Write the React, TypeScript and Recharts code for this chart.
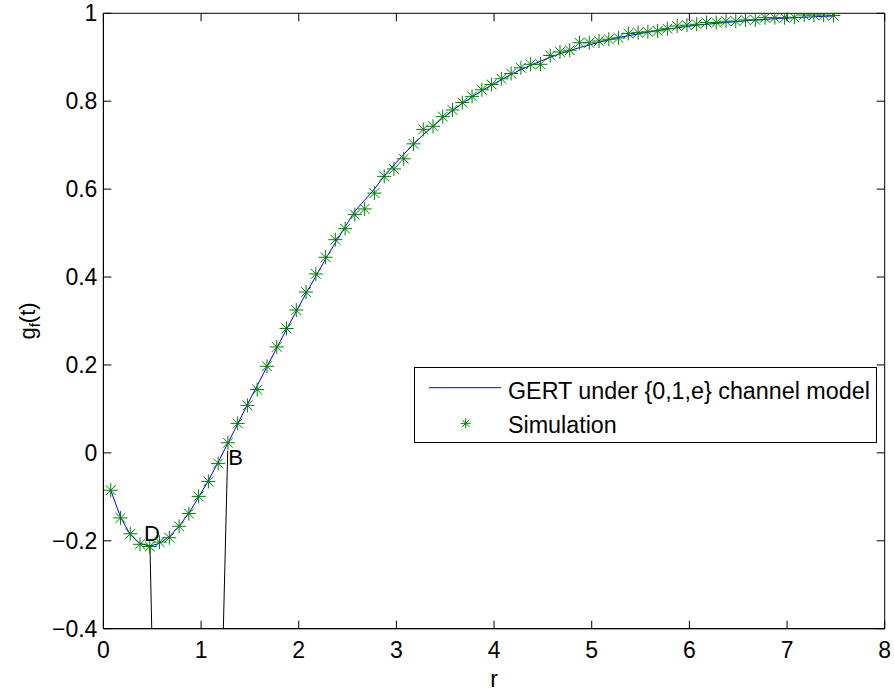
import React from "react";
import {
  ComposedChart,
  Line,
  Scatter,
  XAxis,
  YAxis,
  ReferenceArea,
  ReferenceLine,
  ReferenceDot,
  Legend,
} from "recharts";

// r grid shared by simulation points and the GERT curve
const rValues = [
  0.075, 0.175, 0.275, 0.375, 0.475, 0.575, 0.675, 0.775, 0.875, 0.975,
  1.075, 1.175, 1.275, 1.375, 1.475, 1.575, 1.675, 1.775, 1.875, 1.975,
  2.075, 2.175, 2.275, 2.375, 2.475, 2.575, 2.675, 2.775, 2.875, 2.975,
  3.075, 3.175, 3.275, 3.375, 3.475, 3.575, 3.675, 3.775, 3.875, 3.975,
  4.075, 4.175, 4.275, 4.375, 4.475, 4.575, 4.675, 4.775, 4.875, 4.975,
  5.075, 5.175, 5.275, 5.375, 5.475, 5.575, 5.675, 5.775, 5.875, 5.975,
  6.075, 6.175, 6.275, 6.375, 6.475, 6.575, 6.675, 6.775, 6.875, 6.975,
  7.075, 7.175, 7.275, 7.375, 7.475,
];

const gertValues = [
  -0.085, -0.146, -0.186, -0.206, -0.212, -0.206, -0.19, -0.167, -0.137, -0.101,
  -0.063, -0.021, 0.022, 0.066, 0.11, 0.153, 0.196, 0.239, 0.281, 0.322,
  0.363, 0.402, 0.441, 0.478, 0.514, 0.55, 0.575, 0.6, 0.63, 0.655,
  0.679, 0.702, 0.724, 0.743, 0.762, 0.779, 0.795, 0.81, 0.824, 0.837,
  0.849, 0.861, 0.872, 0.882, 0.891, 0.9, 0.908, 0.915, 0.922, 0.928,
  0.934, 0.94, 0.945, 0.949, 0.953, 0.957, 0.961, 0.964, 0.967, 0.97,
  0.973, 0.975, 0.977, 0.979, 0.981, 0.983, 0.985, 0.986, 0.988, 0.989,
  0.99, 0.991, 0.992, 0.993, 0.994,
];

const simValues = [
  -0.085, -0.148, -0.184, -0.208, -0.213, -0.203, -0.193, -0.167, -0.138, -0.099,
  -0.065, -0.024, 0.023, 0.067, 0.108, 0.144, 0.197, 0.241, 0.283, 0.325,
  0.366, 0.407, 0.445, 0.485, 0.51, 0.542, 0.555, 0.591, 0.629, 0.646,
  0.669, 0.703, 0.736, 0.743, 0.765, 0.78, 0.797, 0.811, 0.826, 0.838,
  0.851, 0.863, 0.876, 0.884, 0.884, 0.904, 0.912, 0.916, 0.933, 0.933,
  0.937, 0.941, 0.944, 0.954, 0.956, 0.958, 0.96, 0.965, 0.971, 0.973,
  0.975, 0.979, 0.979, 0.982, 0.982, 0.985, 0.985, 0.99, 0.99, 0.99,
  0.991, 0.996, 0.996, 0.996, 0.995,
];

const xTicks = [0, 1, 2, 3, 4, 5, 6, 7, 8];
const yTicks = [-0.4, -0.2, 0, 0.2, 0.4, 0.6, 0.8, 1];

// drop lines marking points D and B
const dSegment = [
  { x: 0.495, y: -0.4 },
  { x: 0.477, y: -0.213 },
];
const bSegment = [
  { x: 1.228, y: -0.4 },
  { x: 1.273, y: 0.005 },
];

const theoryData = rValues.map((r, i) => ({ r, g: gertValues[i] }));
const simData = rValues.map((r, i) => ({ r, g: simValues[i] }));

const FONT = "'Liberation Sans', Arial, Helvetica, sans-serif";
const W = 894;
const H = 691;
const MARGIN = { top: 13.3, right: 9.3, left: 43.4, bottom: 22.3 };
const Y_AXIS_W = 60;
const X_AXIS_H = 40;
const PLOT_TOP = MARGIN.top;
const PLOT_RIGHT = W - MARGIN.right;
const TICK = 8;

const fmt = (v: number) => (v < 0 ? "\u2212" + Math.abs(v) : String(v));

const Star = ({ cx, cy, r }: { cx: number; cy: number; r: number }) => {
  const d = r * 0.7;
  return (
    <g stroke="#008000" strokeWidth={1}>
      <line x1={cx - r} x2={cx + r} y1={cy} y2={cy} />
      <line x1={cx} x2={cx} y1={cy - r} y2={cy + r} />
      <line x1={cx - d} x2={cx + d} y1={cy - d} y2={cy + d} />
      <line x1={cx - d} x2={cx + d} y1={cy + d} y2={cy - d} />
    </g>
  );
};

const XTick = ({ x, y, payload }: any) => (
  <g>
    <line x1={x} x2={x} y1={y} y2={y - TICK} stroke="#000" />
    <line x1={x} x2={x} y1={PLOT_TOP} y2={PLOT_TOP + TICK} stroke="#000" />
    <text x={x} y={y + 29} textAnchor="middle" fontSize={23} fontFamily={FONT} fill="#000">
      {fmt(payload.value)}
    </text>
  </g>
);

const YTick = ({ x, y, payload }: any) => (
  <g>
    <line x1={x} x2={x + TICK} y1={y} y2={y} stroke="#000" />
    <line x1={PLOT_RIGHT} x2={PLOT_RIGHT - TICK} y1={y} y2={y} stroke="#000" />
    <text x={x - 6} y={y + 8} textAnchor="end" fontSize={23} fontFamily={FONT} fill="#000">
      {fmt(payload.value)}
    </text>
  </g>
);

const LegendBox = () => (
  <svg width={463} height={76} style={{ display: "block" }}>
    <rect x={0.5} y={0.5} width={462} height={75} fill="#fff" stroke="#000" />
    <line x1={15} x2={87} y1={20.7} y2={20.7} stroke="#0000ff" />
    <Star cx={51.7} cy={56.3} r={5} />
    <text x={94} y={32} fontSize={23.3} fontFamily={FONT} fill="#000">
      GERT under {"{0,1,e}"} channel model
    </text>
    <text x={94} y={66} fontSize={23.3} fontFamily={FONT} fill="#000">
      Simulation
    </text>
  </svg>
);

export default function App() {
  return (
    <div style={{ position: "absolute", left: 0, top: 0, background: "#fff" }}>
      <ComposedChart width={W} height={H} margin={MARGIN}>
        <XAxis
          type="number"
          dataKey="r"
          domain={[0, 8]}
          ticks={xTicks}
          interval={0}
          allowDataOverflow
          height={X_AXIS_H}
          tickSize={0}
          tickMargin={0}
          tickLine={false}
          axisLine={{ stroke: "#000" }}
          tick={XTick}
          label={{
            content: ({ viewBox }: any) => (
              <text
                x={viewBox.x + viewBox.width / 2}
                y={viewBox.y + viewBox.height + 18}
                textAnchor="middle"
                fontSize={23}
                fontFamily={FONT}
                fill="#000"
              >
                r
              </text>
            ),
          }}
        />
        <YAxis
          type="number"
          domain={[-0.4, 1]}
          ticks={yTicks}
          interval={0}
          allowDataOverflow
          width={Y_AXIS_W}
          tickSize={0}
          tickMargin={0}
          tickLine={false}
          axisLine={{ stroke: "#000" }}
          tick={YTick}
          label={{
            content: ({ viewBox }: any) => (
              <text
                transform={`translate(${viewBox.x - 8.4}, ${viewBox.y + viewBox.height / 2}) rotate(-90)`}
                textAnchor="middle"
                fontSize={22}
                fontFamily={FONT}
                fill="#000"
              >
                g
                <tspan dy={5} fontSize={15}>
                  f
                </tspan>
                <tspan dy={-5}>(t)</tspan>
              </text>
            ),
          }}
        />
        <ReferenceArea x1={0} x2={8} y1={-0.4} y2={1} fill="none" stroke="#000" strokeWidth={1} />
        <ReferenceLine segment={dSegment} stroke="#000" strokeWidth={1} />
        <ReferenceLine segment={bSegment} stroke="#000" strokeWidth={1} />
        <ReferenceDot
          x={dSegment[1].x}
          y={dSegment[1].y}
          shape={(p: any) => (
            <text x={p.cx - 6} y={p.cy - 6} fontSize={22} fontFamily={FONT} fill="#000">
              D
            </text>
          )}
        />
        <ReferenceDot
          x={bSegment[1].x}
          y={bSegment[1].y}
          shape={(p: any) => (
            <text x={p.cx + 0.5} y={p.cy + 14.6} fontSize={22} fontFamily={FONT} fill="#000">
              B
            </text>
          )}
        />
        <Line
          data={theoryData}
          dataKey="g"
          type="linear"
          stroke="#0000ff"
          strokeWidth={1}
          dot={false}
          isAnimationActive={false}
        />
        <Scatter
          data={simData}
          dataKey="g"
          isAnimationActive={false}
          shape={(p: any) => <Star cx={p.cx} cy={p.cy} r={7} />}
        />
        <Legend
          layout="horizontal"
          verticalAlign="middle"
          align="center"
          content={() => <LegendBox />}
          wrapperStyle={{ left: 414, top: 367, width: 463, height: 76 }}
        />
      </ComposedChart>
    </div>
  );
}
